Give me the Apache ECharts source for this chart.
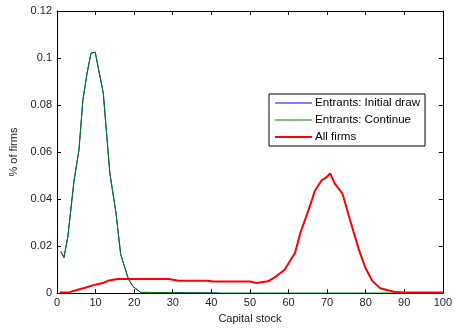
<!DOCTYPE html>
<html><head><meta charset="utf-8">
<script src="https://cdn.jsdelivr.net/npm/echarts@6/dist/echarts.min.js"></script>
<style>html,body{margin:0;padding:0;background:#fff}#c{width:455px;height:329px}</style>
</head><body><div id="c"></div>
<script>
const xTicks = [0,10,20,30,40,50,60,70,80,90,100];
const yTicks = [0,0.02,0.04,0.06,0.08,0.1,0.12];
const seriesNames = ['Entrants: Initial draw','Entrants: Continue','All firms'];

const initialX = [1, 1.8, 2.8, 4.4, 5.7, 6.7, 7.8, 8.8, 9.9, 12, 13.7, 15.3, 16.5, 18.5, 19.7, 21.7, 42];
const initialY = [0.0177, 0.0151, 0.0239, 0.0476, 0.061, 0.082, 0.0936, 0.102, 0.1025, 0.085, 0.051, 0.034, 0.0165, 0.006, 0.0028, 0.0003, 0];
const continueX = [1, 1.8, 2.8, 4.4, 5.7, 6.7, 7.8, 8.8, 9.9, 12, 13.7, 15.3, 16.5, 18.5, 19.7, 21.7, 42, 100];
const continueY = [0.0177, 0.0151, 0.0239, 0.0476, 0.061, 0.082, 0.0936, 0.102, 0.1025, 0.085, 0.051, 0.034, 0.0165, 0.006, 0.0028, 0.0003, 0, 0];
const allX = [0.7, 3.3, 5.4, 7.5, 9.7, 11, 12.3, 13.5, 15.7, 29, 31.5, 39, 40.5, 50, 51.7, 54.7, 56.8, 59, 61.7, 63.1, 64.5, 66, 66.8, 68.6, 69.7, 70.8, 72, 74, 75.9, 78.2, 79.9, 81.7, 83.8, 87.3, 89.8, 100];
const allY = [0.0003, 0.0004, 0.0014, 0.0024, 0.0035, 0.004, 0.0045, 0.0054, 0.006, 0.006, 0.0053, 0.0053, 0.0049, 0.0049, 0.0043, 0.005, 0.0071, 0.0099, 0.0172, 0.0257, 0.0321, 0.0392, 0.0434, 0.048, 0.0491, 0.0509, 0.0466, 0.0423, 0.0314, 0.0187, 0.0109, 0.0052, 0.0021, 0.0006, 0.0003, 0.0003];

const pair = (xs, ys) => xs.map((x, i) => [x, ys[i]]);
const font = 'Liberation Sans, Arial, sans-serif';
const chart = echarts.init(document.getElementById('c'), null, {renderer: 'canvas'});
const axLine = {show: true, onZero: false, lineStyle: {color: '#000', width: 1}};
const tick = {show: true, inside: true, length: 4, lineStyle: {color: '#000'}};
const thin = 'path://M0,0 L37,0 L37,1 L0,1 Z';
const thick = 'path://M0,0 L37,0 L37,2 L0,2 Z';
chart.setOption({
  animation: false,
  backgroundColor: '#fff',
  grid: {left: 57, right: 9, top: 11, bottom: 35, containLabel: false},
  legend: {
    orient: 'vertical', left: 269, top: 94,
    data: [
      {name: seriesNames[0], icon: thin},
      {name: seriesNames[1], icon: thin},
      {name: seriesNames[2], icon: thick}
    ],
    itemWidth: 37, itemHeight: 10, itemGap: 5,
    borderColor: '#000', borderWidth: 1, borderRadius: 0,
    padding: [3, 5, 3, 6], backgroundColor: '#fff',
    textStyle: {fontFamily: font, fontSize: 11.6, color: '#000', padding: [0, 0, 0, -2]}
  },
  xAxis: [
    {type: 'value', min: 0, max: 100, interval: 10, position: 'bottom',
     name: 'Capital stock', nameLocation: 'middle', nameGap: 17,
     nameTextStyle: {fontFamily: font, fontSize: 11, color: '#222'},
     axisLine: axLine, axisTick: tick, splitLine: {show: false},
     axisLabel: {fontFamily: font, fontSize: 11, color: '#222', margin: 4}},
    {type: 'value', min: 0, max: 100, interval: 10, position: 'top',
     axisLine: axLine, axisTick: tick, splitLine: {show: false}, axisLabel: {show: false}}
  ],
  yAxis: [
    {type: 'value', min: 0, max: 0.12, interval: 0.02, position: 'left',
     name: '% of firms', nameLocation: 'middle', nameGap: 33,
     nameTextStyle: {fontFamily: font, fontSize: 11, color: '#222'},
     axisLine: axLine, axisTick: tick, splitLine: {show: false},
     axisLabel: {fontFamily: font, fontSize: 11, color: '#222', margin: 5,
       formatter: v => String(+v.toFixed(2))}},
    {type: 'value', min: 0, max: 0.12, interval: 0.02, position: 'right',
     axisLine: axLine, axisTick: tick, splitLine: {show: false}, axisLabel: {show: false}}
  ],
  series: [
    {name: seriesNames[0], type: 'line', symbol: 'none', data: pair(initialX, initialY),
     lineStyle: {color: '#0000ff', width: 1}, itemStyle: {color: '#0000ff'}},
    {name: seriesNames[1], type: 'line', symbol: 'none', data: pair(continueX, continueY),
     lineStyle: {color: '#008000', width: 1}, itemStyle: {color: '#008000'}},
    {name: seriesNames[2], type: 'line', symbol: 'none', data: pair(allX, allY),
     lineStyle: {color: '#ff0000', width: 2}, itemStyle: {color: '#ff0000'}}
  ]
});
</script></body></html>
